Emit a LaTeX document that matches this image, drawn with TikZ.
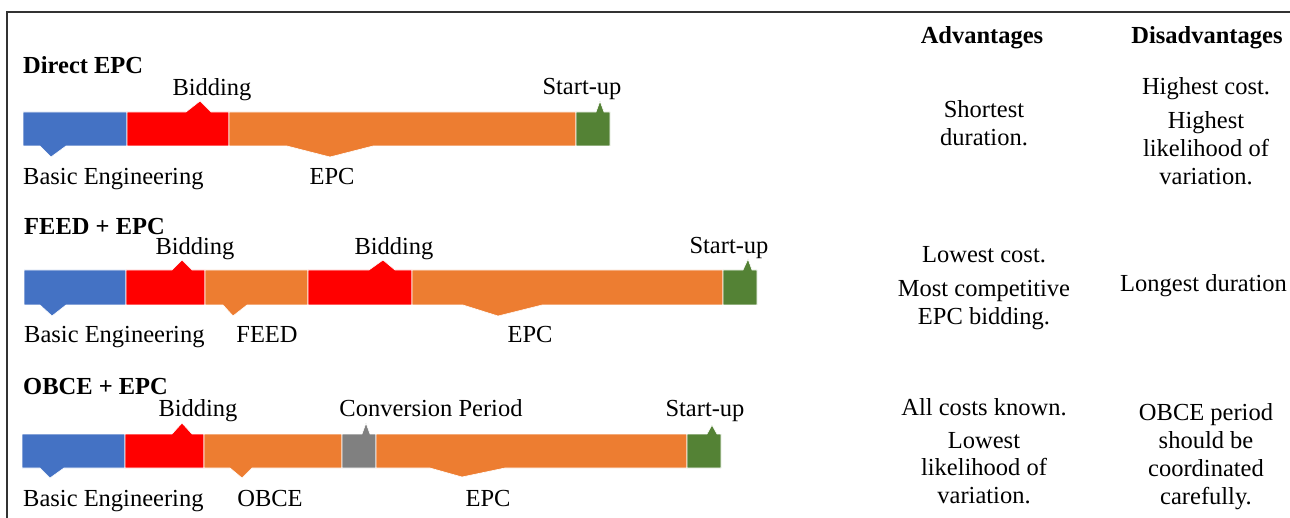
\documentclass[tikz,border=0pt]{standalone}
\usepackage{fontspec}
\setmainfont{Liberation Serif}
\definecolor{cblue}{HTML}{4472C4}
\definecolor{cred}{HTML}{FF0000}
\definecolor{corange}{HTML}{ED7D31}
\definecolor{cgreen}{HTML}{548235}
\definecolor{cgray}{HTML}{808080}
\definecolor{frame}{HTML}{333333}
\tikzset{
  lbl/.style={font=\fontsize{24.5}{28}\selectfont, inner sep=0pt, anchor=base},
  lblw/.style={lbl, anchor=base west},
  head/.style={lbl, font=\fontsize{24.5}{28}\selectfont\bfseries},
  headw/.style={head, anchor=base west},
  seg/.style={draw=white, line width=0.6pt, line join=miter},
}
\begin{document}
\begin{tikzpicture}[x=1pt,y=-1pt]
\useasboundingbox (0,0) rectangle (1290,518);
% frame
\draw[frame, line width=1.4pt] (7,518) -- (7,12) -- (1291,12);

% ---------- Row 1: Direct EPC ----------
\node[headw] (h1) at (23,74) {Direct EPC};
\filldraw[seg, fill=cblue] (23,112) -- (127,112) -- (127,146) -- (66,146) -- (51,157) -- (40,146) -- (23,146) -- cycle;
\filldraw[seg, fill=cred] (127,112) -- (186,112) -- (200,101) -- (211,112) -- (229,112) -- (229,146) -- (127,146) -- cycle;
\filldraw[seg, fill=corange] (229,112) -- (576,112) -- (576,146) -- (373,146) -- (330,157) -- (287,146) -- (229,146) -- cycle;
\filldraw[seg, fill=cgreen] (576,112) -- (596,112) -- (600,101) -- (604,112) -- (610,112) -- (610,146) -- (576,146) -- cycle;
\node[lbl] (b1) at (212,96) {Bidding};
\node[lbl] (s1) at (582,95) {Start-up};
\node[lblw] (be1) at (23,185) {Basic Engineering};
\node[lbl] (e1) at (332,185) {EPC};

% ---------- Row 2: FEED + EPC ----------
\node[headw] (h2) at (24,235) {FEED + EPC};
\filldraw[seg, fill=cblue] (24,270) -- (126,270) -- (126,305) -- (66,305) -- (52,316) -- (40,305) -- (24,305) -- cycle;
\filldraw[seg, fill=cred] (126,270) -- (172,270) -- (182,260) -- (192,270) -- (205,270) -- (205,305) -- (126,305) -- cycle;
\filldraw[seg, fill=corange] (205,270) -- (308,270) -- (308,305) -- (247,305) -- (233,316) -- (223,305) -- (205,305) -- cycle;
\filldraw[seg, fill=cred] (308,270) -- (369,270) -- (383,260) -- (395,270) -- (412,270) -- (412,305) -- (308,305) -- cycle;
\filldraw[seg, fill=corange] (412,270) -- (723,270) -- (723,305) -- (542,305) -- (498,316) -- (463,305) -- (412,305) -- cycle;
\filldraw[seg, fill=cgreen] (723,270) -- (743,270) -- (748,259) -- (752,270) -- (757,270) -- (757,305) -- (723,305) -- cycle;
\node[lbl] (b2a) at (195,255) {Bidding};
\node[lbl] (b2b) at (394,255) {Bidding};
\node[lbl] (s2) at (729,254) {Start-up};
\node[lblw] (be2) at (24,343) {Basic Engineering};
\node[lbl] (f2) at (267,343) {FEED};
\node[lbl] (e2) at (530,343) {EPC};

% ---------- Row 3: OBCE + EPC ----------
\node[headw] (h3) at (23,394) {OBCE + EPC};
\filldraw[seg, fill=cblue] (22,434) -- (125,434) -- (125,468) -- (64,468) -- (50,478) -- (40,468) -- (22,468) -- cycle;
\filldraw[seg, fill=cred] (125,434) -- (172,434) -- (182,423) -- (192,434) -- (204,434) -- (204,468) -- (125,468) -- cycle;
\filldraw[seg, fill=corange] (204,434) -- (342,434) -- (342,468) -- (252,468) -- (242,478) -- (230,468) -- (204,468) -- cycle;
\filldraw[seg, fill=cgray] (342,434) -- (362,434) -- (366,423) -- (370,434) -- (376,434) -- (376,468) -- (342,468) -- cycle;
\filldraw[seg, fill=corange] (376,434) -- (687,434) -- (687,468) -- (505,468) -- (462,477) -- (430,468) -- (376,468) -- cycle;
\filldraw[seg, fill=cgreen] (687,434) -- (707,434) -- (712,425) -- (717,434) -- (721,434) -- (721,468) -- (687,468) -- cycle;
\node[lbl] (b3) at (198,416) {Bidding};
\node[lbl] (c3) at (431,416) {Conversion Period};
\node[lbl] (s3) at (705,416) {Start-up};
\node[lblw] (be3) at (23,506) {Basic Engineering};
\node[lbl] (o3) at (270,506) {OBCE};
\node[lbl] (e3) at (488,506) {EPC};

% ---------- Advantages / Disadvantages ----------
\node[head] (adv) at (982,44) {Advantages};
\node[head] (dis) at (1207,44) {Disadvantages};

\node[lbl] (a1a) at (984,118) {Shortest};
\node[lbl] (a1b) at (984,146) {duration.};
\node[lbl] (d1a) at (1206,95) {Highest cost.};
\node[lbl] (d1b) at (1206,129) {Highest};
\node[lbl] (d1c) at (1206,157) {likelihood of};
\node[lbl] (d1d) at (1206,185) {variation.};

\node[lbl] (a2a) at (984,263) {Lowest cost.};
\node[lbl] (a2b) at (984,297) {Most competitive};
\node[lbl] (a2c) at (984,325) {EPC bidding.};
\node[lblw] (d2a) at (1120,292) {Longest duration};

\node[lbl] (a3a) at (984,415) {All costs known.};
\node[lbl] (a3b) at (984,448) {Lowest};
\node[lbl] (a3c) at (984,475) {likelihood of};
\node[lbl] (a3d) at (984,503) {variation.};
\node[lbl] (d3a) at (1206,420) {OBCE period};
\node[lbl] (d3b) at (1206,448) {should be};
\node[lbl] (d3c) at (1206,476) {coordinated};
\node[lbl] (d3d) at (1206,504) {carefully.};
\end{tikzpicture}
\end{document}
